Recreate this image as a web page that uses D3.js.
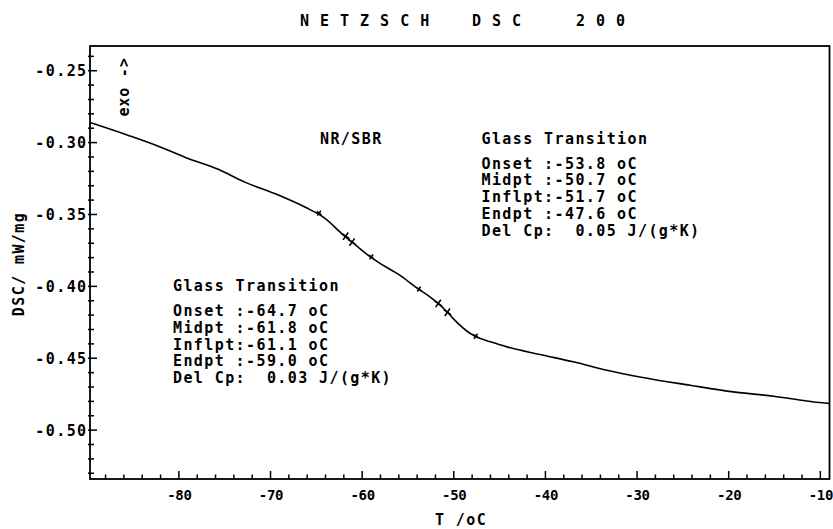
<!DOCTYPE html>
<html><head><meta charset="utf-8">
<script src="https://cdn.jsdelivr.net/npm/d3@7"></script>
<style>
body{margin:0;background:#fff}
svg{display:block}
text{font-family:"DejaVu Sans Mono",monospace;font-weight:bold;fill:#000}
</style>
</head><body>
<svg id="c" width="833" height="529"></svg>
<script>
// ---- data ----
const temps = [-89.6,-85.5,-82.25,-79.3,-75.7,-72.8,-69.15,-66.2,-64.2,-61.9,-61.1,-59.1,-58.05,-55.9,-54.2,-52.6,-51.7,-50.7,-49.9,-48.2,-47.1,-46.0,-44.2,-40.6,-36.95,-33.3,-29.7,-24.2,-19.5,-15.1,-11.5,-9.0];
const dscValues = [-0.2862,-0.2950,-0.3025,-0.3103,-0.3186,-0.3275,-0.3365,-0.3450,-0.3520,-0.3651,-0.3692,-0.3795,-0.3840,-0.3922,-0.4003,-0.4073,-0.4119,-0.4180,-0.4235,-0.4328,-0.4363,-0.4386,-0.4421,-0.4474,-0.4525,-0.4583,-0.4630,-0.4688,-0.4734,-0.4764,-0.4797,-0.4815];
const markerTemps = [-64.7,-61.8,-61.1,-59.0,-53.8,-51.7,-50.7,-47.6];
const markerValues = [-0.3491,-0.3651,-0.3692,-0.3795,-0.4019,-0.4119,-0.4180,-0.4347];
const markerKinds = ["edge","cross","cross","edge","edge","cross","cross","edge"];
const xTicks = [-80,-70,-60,-50,-40,-30,-20,-10];
const xTickLabels = ["-80","-70","-60","-50","-40","-30","-20","-10"];
const yTicks = [-0.25,-0.30,-0.35,-0.40,-0.45,-0.50];
const yTickLabels = ["-0.25","-0.30","-0.35","-0.40","-0.45","-0.50"];
const titleWords = ["NETZSCH","DSC","200"];
const lowerBlock = ["Glass Transition","Onset :-64.7 oC","Midpt :-61.8 oC","Inflpt:-61.1 oC","Endpt :-59.0 oC","Del Cp:  0.03 J/(g*K)"];
const upperBlock = ["Glass Transition","Onset :-53.8 oC","Midpt :-50.7 oC","Inflpt:-51.7 oC","Endpt :-47.6 oC","Del Cp:  0.05 J/(g*K)"];
const sampleLabel = "NR/SBR";
const xTitle = "T /oC";
const yTitle = "DSC/  mW/mg";
const exoLabel = "exo ->";

// ---- layout ----
const W = 833, H = 529;
const m = {left: 90, right: 3.5, top: 46, bottom: 50};
const FS = 15, LS = 1.4;
const svg = d3.select("#c");
const x = d3.scaleLinear().domain([-89.7, -9.0]).range([m.left, W - m.right]);
const y = d3.scaleLinear().domain([-0.534, -0.2328]).range([H - m.bottom, m.top]);

// frame
svg.append("rect").attr("x", m.left).attr("y", m.top)
  .attr("width", W - m.right - m.left).attr("height", H - m.bottom - m.top)
  .attr("fill", "none").attr("stroke", "#000").attr("stroke-width", 1.8);

// x axis ticks (inward)
const xMinor = d3.range(-88, -9, 2);
const gx = svg.append("g");
gx.selectAll("line").data(xMinor).join("line")
  .attr("x1", d => x(d)).attr("x2", d => x(d))
  .attr("y1", H - m.bottom).attr("y2", d => H - m.bottom - (d % 10 === 0 ? 8 : 4.5))
  .attr("stroke", "#000").attr("stroke-width", 1.5);
gx.selectAll("text").data(xTicks).join("text")
  .attr("x", d => x(d) + 0.5).attr("y", H - m.bottom + 20.5)
  .attr("text-anchor", "middle").attr("font-size", 14).attr("letter-spacing", -0.3)
  .text((d, i) => xTickLabels[i]);

// y axis ticks (inward)
const yMinor = d3.range(-24, -54, -1).map(v => v / 100);
const gy = svg.append("g");
gy.selectAll("line").data(yMinor).join("line")
  .attr("y1", d => y(d)).attr("y2", d => y(d))
  .attr("x1", m.left - 2).attr("x2", d => m.left + (Math.abs(Math.round(d * 100)) % 5 === 0 ? 7 : 4))
  .attr("stroke", "#000").attr("stroke-width", 1.5);
gy.selectAll("text").data(yTicks).join("text")
  .attr("x", m.left - 2.5).attr("y", d => y(d) + 5.5)
  .attr("text-anchor", "end").attr("font-size", FS).attr("letter-spacing", LS)
  .text((d, i) => yTickLabels[i]);

// curve
const line = d3.line().x((d, i) => x(temps[i])).y((d, i) => y(dscValues[i])).curve(d3.curveMonotoneX);
svg.append("path").datum(dscValues).attr("d", line)
  .attr("fill", "none").attr("stroke", "#000").attr("stroke-width", 1.6);

// markers
const mk = svg.append("g");
markerTemps.forEach((t, i) => {
  const cx = x(t), cy = y(markerValues[i]);
  const s = markerKinds[i] === "cross" ? 4.5 : 3;
  mk.append("path")
    .attr("d", `M${cx - s},${cy}H${cx + s}M${cx},${cy - s}V${cy + s}`)
    .attr("stroke", "#000").attr("stroke-width", 1.6)
    .attr("transform", `rotate(35,${cx},${cy})`);
});

// title
const titleX = [300, 472, 576];
titleWords.forEach((w, i) => {
  svg.append("text").attr("x", titleX[i]).attr("y", 25.5)
    .attr("font-size", 15).attr("letter-spacing", 11).text(w);
});

// axis titles
svg.append("text").attr("x", 461).attr("y", 524.5).attr("text-anchor", "middle")
  .attr("font-size", FS).attr("letter-spacing", LS).text(xTitle);
svg.append("text").attr("transform", "translate(24,264) rotate(-90)")
  .attr("text-anchor", "middle").attr("font-size", FS).attr("letter-spacing", LS).text(yTitle);
svg.append("text").attr("transform", "translate(128.5,87) rotate(-90)")
  .attr("text-anchor", "middle").attr("font-size", FS).attr("letter-spacing", 0.8).text(exoLabel);

// sample label
svg.append("text").attr("x", 320).attr("y", 143.5)
  .attr("font-size", FS).attr("letter-spacing", LS).text(sampleLabel);

// text blocks
const lowerY = [285, 310, 327, 344, 360.8, 377.6];
const upperY = [138, 163, 179.8, 196.6, 213.4, 230.2];
lowerBlock.forEach((s, i) => {
  svg.append("text").attr("x", 173).attr("y", lowerY[i] + 5.5)
    .attr("font-size", FS).attr("letter-spacing", LS)
    .style("white-space", "pre").text(s);
});
upperBlock.forEach((s, i) => {
  svg.append("text").attr("x", 481.5).attr("y", upperY[i] + 5.5)
    .attr("font-size", FS).attr("letter-spacing", LS)
    .style("white-space", "pre").text(s);
});
</script>
</body></html>
